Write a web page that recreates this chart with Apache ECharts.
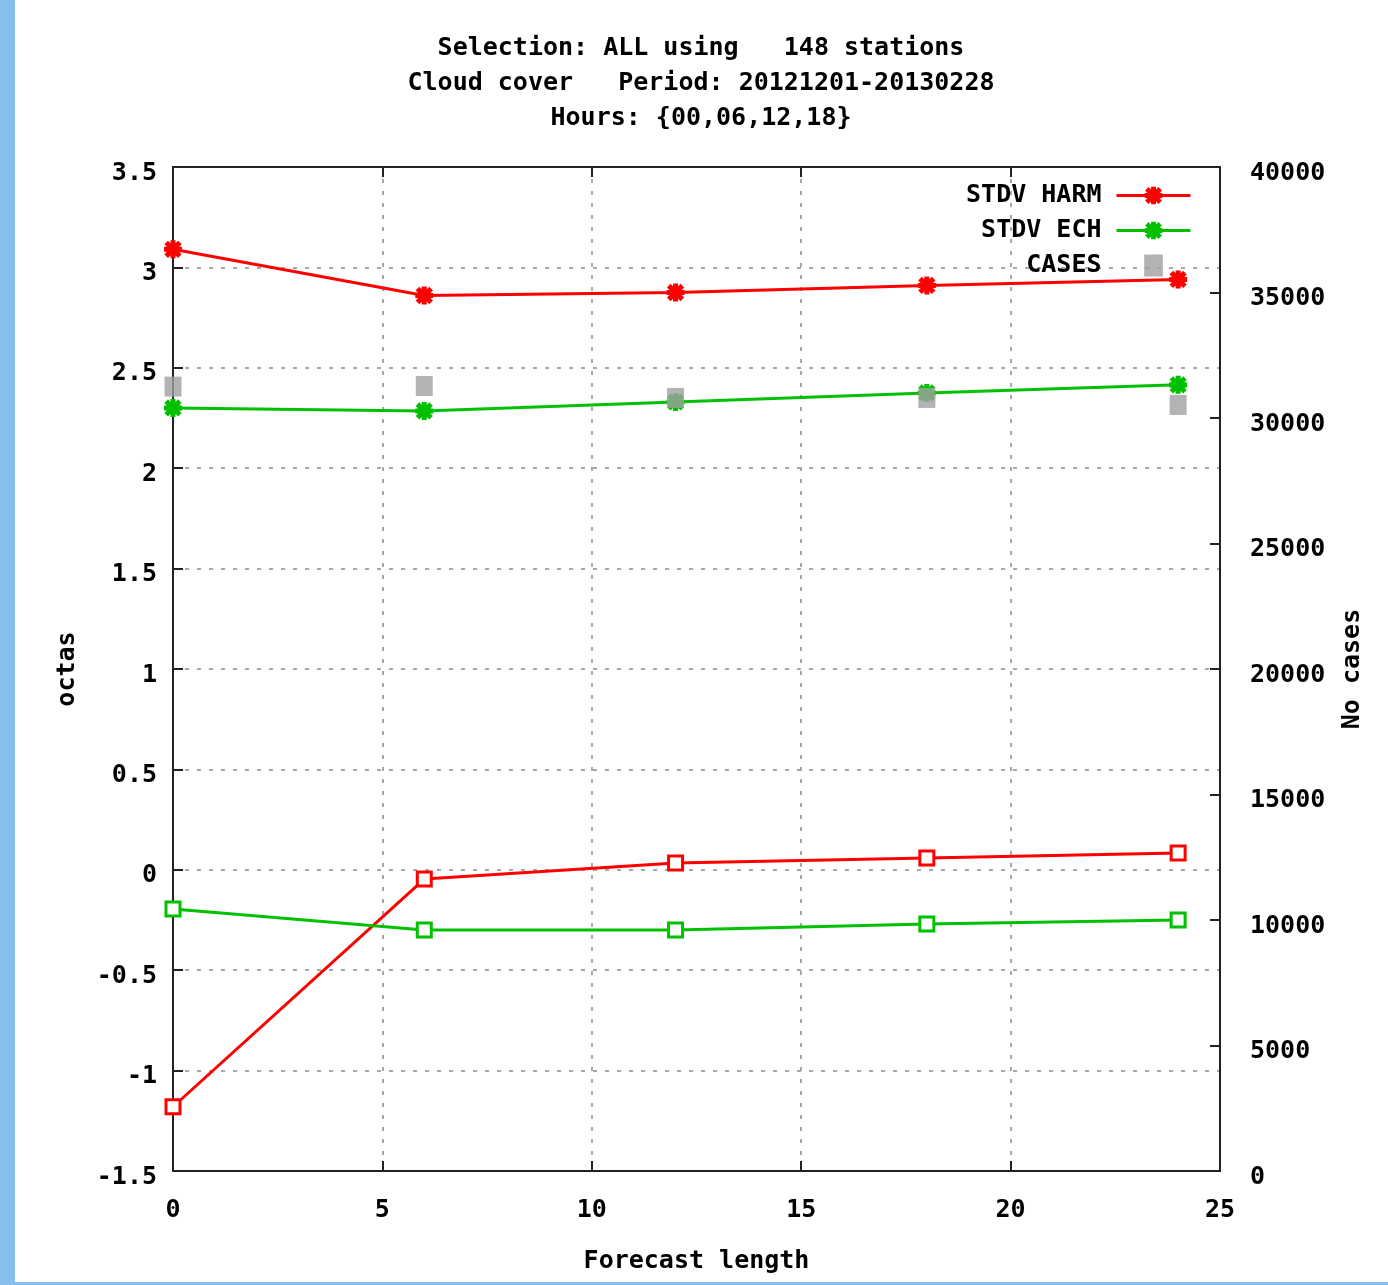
<!DOCTYPE html>
<html>
<head>
<meta charset="utf-8">
<script src="https://cdn.jsdelivr.net/npm/echarts@6/dist/echarts.min.js"></script>
<style>
html,body{margin:0;padding:0;background:#fff;}
#chart{width:1388px;height:1285px;}
</style>
</head>
<body>
<div id="chart"></div>
<script>
// ---- data ----
const titleLines = ['Selection: ALL using   148 stations', 'Cloud cover   Period: 20121201-20130228', 'Hours: {00,06,12,18}'];
const forecastLength = [0, 6, 12, 18, 24];
const stdvHarm = [3.09, 2.86, 2.875, 2.91, 2.94];
const stdvEch = [2.30, 2.285, 2.33, 2.375, 2.415];
const cases = [31250, 31275, 30800, 30800, 30520];
const biasHarm = [-1.18, -0.046, 0.034, 0.059, 0.084];
const biasEch = [-0.195, -0.30, -0.30, -0.27, -0.25];
const legendNames = ['STDV HARM', 'STDV ECH', 'CASES'];
const xTicks = [0, 5, 10, 15, 20, 25];
const yLeftTicks = [-1.5, -1, -0.5, 0, 0.5, 1, 1.5, 2, 2.5, 3, 3.5];
const yRightTicks = [0, 5000, 10000, 15000, 20000, 25000, 30000, 35000, 40000];

const FONT = '"DejaVu Sans Mono", "Liberation Mono", monospace';
const RED = '#ff0000', GREEN = '#00c000', GRAY = '#a0a0a0';
const STAR = 'path://M3.6,0h2.8v10h-2.8z M0,3.6h10v2.8h-10z M0.2,2.2L2.2,0.2L9.8,7.8L7.8,9.8z M7.8,0.2L9.8,2.2L2.2,9.8L0.2,7.8z';

function pairs(xs, ys) { return xs.map((x, i) => [x, ys[i]]); }

const chart = echarts.init(document.getElementById('chart'));
const txt = { fontFamily: FONT, fontWeight: 'bold', fontSize: 25, color: '#000' };
const richLbl = { t: Object.assign({}, txt, { padding: [12, 0, 0, 0] }) };

chart.setOption({
  animation: false,
  backgroundColor: '#fff',
  title: {
    text: titleLines.join('\n'),
    left: 696, top: 26, textAlign: 'center',
    textStyle: Object.assign({}, txt, { lineHeight: 35 })
  },
  graphic: [
    { type: 'rect', shape: { x: 0, y: 0, width: 15, height: 1285 }, style: { fill: '#86bfea' }, silent: true },
    { type: 'rect', shape: { x: 0, y: 1282, width: 1388, height: 3 }, style: { fill: '#86bfea' }, silent: true }
  ],
  legend: {
    data: [
      { name: legendNames[0] },
      { name: legendNames[1] },
      { name: legendNames[2], icon: 'path://M0,0h17v20h-17z' }
    ],
    orient: 'vertical',
    align: 'right',
    right: 191, top: 178,
    itemWidth: 74, itemHeight: 22, itemGap: 10,
    symbolKeepAspect: true,
    lineStyle: { width: 3 },
    textStyle: Object.assign({}, txt, { padding: [0, 10, 0, 0] }),
    selectedMode: false
  },
  grid: { left: 173, right: 168, top: 167, bottom: 114, show: false },
  xAxis: [{
    type: 'value', min: 0, max: 25, interval: 5,
    name: 'Forecast length', nameLocation: 'middle', nameGap: 78,
    nameTextStyle: txt,
    axisLine: { show: true, onZero: false, lineStyle: { color: '#222', width: 2 } },
    axisTick: { show: true, inside: true, length: 10, lineStyle: { color: '#222', width: 2 } },
    axisLabel: Object.assign({}, txt, { margin: 27 }),
    splitLine: { show: true, lineStyle: { color: '#a8a8a8', type: [4, 8], width: 2 } }
  }, {
    type: 'value', min: 0, max: 25, interval: 5, position: 'top',
    axisLine: { show: true, onZero: false, lineStyle: { color: '#222', width: 2 } },
    axisTick: { show: true, inside: true, length: 10, lineStyle: { color: '#222', width: 2 } },
    axisLabel: { show: false }, splitLine: { show: false }
  }],
  yAxis: [{
    type: 'value', min: -1.5, max: 3.5, interval: 0.5, position: 'left',
    name: 'octas', nameLocation: 'middle', nameGap: 93, nameRotate: 90,
    nameTextStyle: txt,
    axisLine: { show: true, onZero: false, lineStyle: { color: '#222', width: 2 } },
    axisTick: { show: true, inside: true, length: 10, lineStyle: { color: '#222', width: 2 } },
    axisLabel: Object.assign({}, txt, { margin: 16, formatter: v => '{t|' + v + '}', rich: richLbl }),
    splitLine: { show: true, lineStyle: { color: '#a8a8a8', type: [4, 8], width: 2 } }
  }, {
    type: 'value', min: 0, max: 40000, interval: 5000, position: 'right',
    name: 'No cases', nameLocation: 'middle', nameGap: 120, nameRotate: 90,
    nameTextStyle: txt,
    axisLine: { show: true, onZero: false, lineStyle: { color: '#222', width: 2 } },
    axisTick: { show: true, inside: true, length: 10, lineStyle: { color: '#222', width: 2 } },
    axisLabel: Object.assign({}, txt, { margin: 30, formatter: v => '{t|' + v + '}', rich: richLbl }),
    splitLine: { show: false }
  }],
  series: [
    { name: 'BIAS HARM', type: 'line', data: pairs(forecastLength, biasHarm),
      lineStyle: { color: RED, width: 3 }, itemStyle: { color: '#fff', borderColor: RED, borderWidth: 3 },
      symbol: 'rect', symbolSize: 14, showAllSymbol: true, z: 3 },
    { name: 'BIAS ECH', type: 'line', data: pairs(forecastLength, biasEch),
      lineStyle: { color: GREEN, width: 3 }, itemStyle: { color: '#fff', borderColor: GREEN, borderWidth: 3 },
      symbol: 'rect', symbolSize: 14, showAllSymbol: true, z: 3 },
    { name: 'STDV HARM', type: 'line', data: pairs(forecastLength, stdvHarm),
      lineStyle: { color: RED, width: 3 }, itemStyle: { color: RED },
      symbol: STAR, symbolSize: 18, showAllSymbol: true, z: 3 },
    { name: 'STDV ECH', type: 'line', data: pairs(forecastLength, stdvEch),
      lineStyle: { color: GREEN, width: 3 }, itemStyle: { color: GREEN },
      symbol: STAR, symbolSize: 18, showAllSymbol: true, z: 3 },
    { name: 'CASES', type: 'scatter', yAxisIndex: 1, data: pairs(forecastLength, cases),
      itemStyle: { color: GRAY }, symbol: 'rect', symbolSize: [17, 20], z: 4 }
  ]
});
</script>
</body>
</html>
